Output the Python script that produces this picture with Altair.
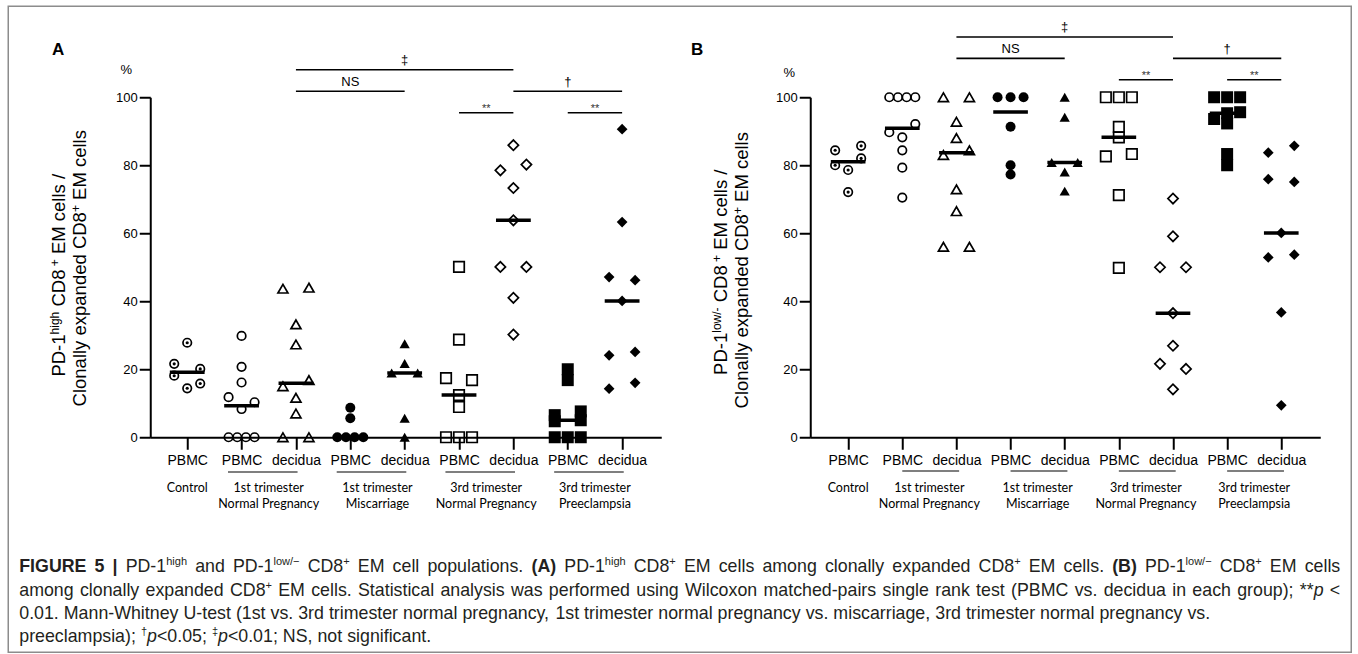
import re
import numpy as np
import pandas as pd
import altair as alt

# ---------------- values ----------------
slot_labels = ["PBMC", "PBMC", "decidua", "PBMC", "decidua", "PBMC", "decidua", "PBMC", "decidua"]
group_names = ["Control", "1st trimester\nNormal Pregnancy", "1st trimester\nMiscarriage",
               "3rd trimester\nNormal Pregnancy", "3rd trimester\nPreeclampsia"]
group_slots = [(0, 0), (1, 2), (3, 4), (5, 6), (7, 8)]
y_ticks = [0, 20, 40, 60, 80, 100]

a_control = [27.8, 21.6, 20.1, 18.1, 15.8, 14.4]
a_np1_pbmc = [29.8, 20.7, 16.1, 11.8, 10.3, 8.3, 0, 0, 0, 0]
a_np1_dec = [43.7, 44.0, 33.2, 27.3, 15.0, 16.8, 11.6, 7.0, 0, 0]
a_mis_pbmc = [8.7, 5.6, 0, 0, 0, 0]
a_mis_dec = [27.5, 21.7, 18.9, 18.9, 5.6, 0]
a_np3_pbmc = [50.1, 28.7, 17.4, 16.8, 12.4, 8.9, 0, 0, 0]
a_np3_dec = [85.9, 78.5, 80.2, 73.3, 63.8, 50.1, 50.1, 41.0, 30.2]
a_pe_pbmc = [20.0, 16.8, 6.5, 7.6, 4.7, 5.0, 0, 0, 0]
a_pe_dec = [90.6, 63.3, 47.1, 46.2, 40.1, 24.1, 25.1, 14.3, 16.0]

b_control = [84.4, 85.7, 80.0, 82.0, 78.6, 72.1]
b_np1_pbmc = [100, 100, 100, 100, 89.7, 92.1, 88.2, 84.4, 79.3, 70.5]
b_np1_dec = [100, 100, 92.8, 88.0, 83.0, 84.4, 72.9, 66.5, 56.0, 56.0]
b_mis_pbmc = [100, 100, 100, 91.3, 77.3, 80.0]
b_mis_dec = [100, 94.1, 80.8, 80.8, 78.0, 72.4]
b_np3_pbmc = [100, 100, 100, 91.3, 88.2, 82.6, 83.3, 71.2, 49.8]
b_np3_dec = [70.2, 59.1, 50.0, 50.0, 36.5, 26.9, 21.6, 20.1, 14.1]
b_pe_pbmc = [100, 100, 100, 93.6, 95.3, 95.6, 92.3, 83.3, 80.0]
b_pe_dec = [83.7, 85.7, 75.9, 75.1, 60.1, 52.9, 53.7, 36.7, 9.4]

# comparisons: (from slot, to slot, tier, label)
tests = [(2, 6, 2, "\u2021"), (2, 4, 1, "NS"), (6, 8, 1, "\u2020"), (5, 6, 0, "**"), (7, 8, 0, "**")]

a_title = [[("PD-1", "n"), ("high", "s"), (" CD8", "n"), (" +", "s"), (" EM cells /", "n")],
           [("Clonally expanded CD8", "n"), ("+", "s"), (" EM cells", "n")]]
b_title = [[("PD-1", "n"), ("low/-", "s"), (" CD8", "n"), (" +", "s"), (" EM cells /", "n")],
           [("Clonally expanded CD8", "n"), ("+", "s"), (" EM cells", "n")]]

caption = [
    [("FIGURE 5 |", "b"), (" PD-1", "n"), ("high", "s"), (" and PD-1", "n"), ("low/\u2212", "s"),
     (" CD8", "n"), ("+", "s"), (" EM cell populations. ", "n"), ("(A)", "b"), (" PD-1", "n"),
     ("high", "s"), (" CD8", "n"), ("+", "s"), (" EM cells among clonally expanded CD8", "n"),
     ("+", "s"), (" EM cells. ", "n"), ("(B)", "b"), (" PD-1", "n"), ("low/\u2212", "s"),
     (" CD8", "n"), ("+", "s"), (" EM cells", "n")],
    [("among clonally expanded CD8", "n"), ("+", "s"),
     (" EM cells. Statistical analysis was performed using Wilcoxon matched-pairs single rank test "
      "(PBMC vs. decidua in each group); **", "n"), ("p", "i"), (" <", "n")],
    [("0.01. Mann-Whitney U-test (1st vs. 3rd trimester normal pregnancy, 1st trimester normal "
      "pregnancy vs. miscarriage, 3rd trimester normal pregnancy vs.", "n")],
    [("preeclampsia); ", "n"), ("\u2020", "s"), ("p", "i"), ("<0.05; ", "n"), ("\u2021", "s"),
     ("p", "i"), ("<0.01; NS, not significant.", "n")],
]
caption_justify = [True, True, False, False]

a_values = [a_control, a_np1_pbmc, a_np1_dec, a_mis_pbmc, a_mis_dec, a_np3_pbmc, a_np3_dec, a_pe_pbmc, a_pe_dec]
b_values = [b_control, b_np1_pbmc, b_np1_dec, b_mis_pbmc, b_mis_dec, b_np3_pbmc, b_np3_dec, b_pe_pbmc, b_pe_dec]

# ---------------- styling / layout ----------------
slot_shape = ["circle", "circle", "triangle-up", "circle", "triangle-up", "square", "diamond", "square", "diamond"]
slot_fill = [False, False, False, True, True, False, False, True, True]
slot_ring = [True, False, False, False, False, False, False, False, False]
size_map = {("circle", False): 72, ("triangle-up", False): 100, ("square", False): 110, ("diamond", False): 105,
            ("circle", True): 100, ("triangle-up", True): 105, ("square", True): 144, ("diamond", True): 115}

NARROW = "Liberation Sans Narrow, Arial Narrow, Liberation Sans, sans-serif"
SANS = "Liberation Sans, Arial, sans-serif"
CAPFONT = "Liberation Sans, Arial, sans-serif"
GROUPFONT = "Lato, Open Sans, sans-serif"

TOP, H = 97, 340
P = {
    "A": dict(x0=150, w=511, d0=-0.68, d1=8.72, letter=(58, 50), pct=(126, 70),
              tbase=[65, 86], tcen=[275, 268], br_base=112.5, br_step=21.5,
              ul=(-0.25, 1.03), ul_y=471.7),
    "B": dict(x0=810, w=510, d0=-0.70, d1=8.72, letter=(697, 50), pct=(789, 73),
              tbase=[727, 748], tcen=[272, 270], br_base=79.5, br_step=21.4,
              ul=(0.0, 1.05), ul_y=470.7),
}


def ux(pid, px):
    p = P[pid]
    return p["d0"] + (px - p["x0"]) * (p["d1"] - p["d0"]) / p["w"]


def uy(py):
    return (TOP + H - py) * 100.0 / H


# Arial / Liberation Sans advance widths (1/1000 em)
AR = {' ': 278, '!': 278, '"': 355, '#': 556, '$': 556, '%': 889, '&': 667, "'": 191, '(': 333, ')': 333,
      '*': 389, '+': 584, ',': 278, '-': 333, '.': 278, '/': 278, ':': 278, ';': 278, '<': 584, '=': 584,
      '>': 584, '?': 556, '@': 1015, '[': 278, ']': 278, '|': 260, '\u2020': 556, '\u2021': 556, '\u2212': 584}
for c in "0123456789":
    AR[c] = 556
AR.update(dict(zip("ABCDEFGHIJKLMNOPQRSTUVWXYZ",
                   [667, 667, 722, 722, 667, 611, 778, 722, 278, 500, 667, 556, 833, 722, 778, 667, 778, 722,
                    667, 611, 722, 667, 944, 667, 667, 611])))
AR.update(dict(zip("abcdefghijklmnopqrstuvwxyz",
                   [556, 556, 500, 556, 556, 278, 556, 556, 222, 222, 500, 222, 833, 556, 556, 556, 556, 333,
                    500, 278, 556, 500, 722, 500, 500, 500])))
ARB = dict(AR)
ARB.update(dict(zip("ABCDEFGHIJKLMNOPQRSTUVWXYZ",
                    [722, 722, 722, 722, 667, 611, 778, 722, 278, 556, 722, 611, 833, 722, 778, 667, 778, 722,
                     667, 611, 722, 667, 944, 667, 667, 611])))
ARB['|'] = 280


def tw(s, fs, bold=False):
    tab = ARB if bold else AR
    return sum(tab.get(c, 556) for c in s) * fs / 1000.0


def runs(segs, fs, target=None, sup=0.65, rise=0.36):
    def fsz(st):
        return fs * sup if st == "s" else fs
    nat = sum(tw(t, fsz(st), st == "b") for t, st in segs)
    nsp = sum(t.count(" ") for t, st in segs)
    extra = (target - nat) / nsp if (target and nsp) else 0.0
    out, a = [], 0.0
    for t, st in segs:
        f = fsz(st)
        for tok in re.split("( )", t):
            if tok == "":
                continue
            if tok == " ":
                a += tw(" ", f, st == "b") + extra
            else:
                out.append(dict(a=a, r=(fs * rise if st == "s" else 0.0), text=tok, fs=f, st=st))
                a += tw(tok, f, st == "b")
    return out, a


def lanes(vals, bin_w, half):
    order = sorted(range(len(vals)), key=lambda i: (-vals[i], i))
    rows = []
    for i in order:
        if rows and vals[rows[-1][0]] - vals[i] <= bin_w:
            rows[-1].append(i)
        else:
            rows.append([i])
    off = [0.0] * len(vals)
    for r in rows:
        r = sorted(r)
        n = len(r)
        if n > 1:
            for j, i in enumerate(r):
                off[i] = -half + 2 * half * j / (n - 1)
    return off


def build_panel(pid, values, extras):
    p = P[pid]
    xs = alt.Scale(domain=[p["d0"], p["d1"]], nice=False, zero=False)
    ys = alt.Scale(domain=[0, 100], nice=False, zero=False)
    half = 13.0 * (p["d1"] - p["d0"]) / p["w"]

    label_expr = "[" + ",".join("'%s'" % l for l in slot_labels) + "][datum.value]"
    xaxis = alt.Axis(values=list(range(len(slot_labels))), labelExpr=label_expr, title="", grid=False,
                     domainColor="black", domainWidth=2, tickColor="black", tickWidth=2, tickSize=12,
                     labelFont=NARROW, labelFontSize=14, labelColor="black", labelPadding=4,
                     labelFlush=False, labelOverlap=False, labelBound=False)
    yaxis = alt.Axis(values=y_ticks, title="", grid=False, domainColor="black", domainWidth=2,
                     tickColor="black", tickWidth=2, tickSize=11, labelFont=NARROW, labelFontSize=13,
                     labelColor="black", labelPadding=2, labelFlush=False, labelOverlap=False)

    def X(f):
        return alt.X(f, type="quantitative", scale=xs, axis=xaxis)

    def Y(f):
        return alt.Y(f, type="quantitative", scale=ys, axis=yaxis)

    def text_layer(rows, **mk):
        df = pd.DataFrame(rows)
        df["tx"] = [ux(pid, v) for v in df["px"]]
        df["ty"] = [uy(v) for v in df["py"]]
        return alt.Chart(df).mark_text(**mk).encode(
            x=X("tx"), y=Y("ty"), text="text:N", size=alt.Size("fs:Q", scale=None))

    rows = []
    for s, vals in enumerate(values):
        for v, o in zip(vals, lanes(vals, 2.5, half)):
            rows.append(dict(slot=s, value=v, x=s + o, shape=slot_shape[s], isfilled=slot_fill[s],
                             isring=slot_ring[s], size=size_map[(slot_shape[s], slot_fill[s])]))
    pts = pd.DataFrame(rows)
    open_pts = pts[~pts["isfilled"]]
    full_pts = pts[pts["isfilled"]]
    ring_pts = pts[pts["isring"]]

    layers = []
    layers.append(alt.Chart(open_pts).mark_point(filled=False, color="black", strokeWidth=1.7, opacity=1).encode(
        x=X("x"), y=Y("value"), shape=alt.Shape("shape:N", scale=None), size=alt.Size("size:Q", scale=None)))
    layers.append(alt.Chart(full_pts).mark_point(filled=True, color="black", opacity=1).encode(
        x=X("x"), y=Y("value"), shape=alt.Shape("shape:N", scale=None), size=alt.Size("size:Q", scale=None)))
    layers.append(alt.Chart(ring_pts).mark_point(filled=True, color="black", opacity=1, shape="circle", size=10).encode(
        x=X("x"), y=Y("value")))

    med = pd.DataFrame([dict(xa=s - 0.32, xb=s + 0.32, m=float(np.median(v))) for s, v in enumerate(values)])
    layers.append(alt.Chart(med).mark_rule(color="black", strokeWidth=3.5).encode(
        x=X("xa"), x2="xb:Q", y=Y("m")))

    # significance brackets
    br = []
    for a, b, tier, lab in tests:
        ly = p["br_base"] - p["br_step"] * tier
        br.append(dict(xa=a, xb=b, xm=(a + b) / 2.0, yl=uy(ly),
                       yt=uy(ly - (1.0 if lab == "**" else 5.5)), lab=lab))
    brdf = pd.DataFrame(br)
    layers.append(alt.Chart(brdf).mark_rule(color="black", strokeWidth=1.6).encode(
        x=X("xa"), x2="xb:Q", y=Y("yl")))
    layers.append(alt.Chart(brdf[brdf["lab"] == "NS"]).mark_text(font=NARROW, fontSize=13, baseline="alphabetic", color="black").encode(
        x=X("xm"), y=Y("yt"), text="lab:N"))
    layers.append(alt.Chart(brdf[brdf["lab"].isin(["\u2020", "\u2021"])]).mark_text(font=SANS, fontSize=13, baseline="alphabetic", color="black").encode(
        x=X("xm"), y=Y("yt"), text="lab:N"))
    layers.append(alt.Chart(brdf[brdf["lab"] == "**"]).mark_text(font=SANS, fontSize=11, baseline="alphabetic", color="#333").encode(
        x=X("xm"), y=Y("yt"), text="lab:N"))

    # group underlines and names
    ul = pd.DataFrame([dict(xa=g0 + p["ul"][0], xb=g0 + p["ul"][1], y=uy(p["ul_y"]))
                       for (g0, g1) in group_slots if g1 > g0])
    layers.append(alt.Chart(ul).mark_rule(color="#555", strokeWidth=1.5).encode(
        x=X("xa"), x2="xb:Q", y=Y("y")))
    gn = pd.DataFrame([dict(x=(g0 + g1) / 2.0, y=uy(481.3), t=n) for n, (g0, g1) in zip(group_names, group_slots)])
    layers.append(alt.Chart(gn).mark_text(font=GROUPFONT, fontSize=12.5, lineBreak="\n", lineHeight=16.6,
                                          baseline="top", align="center", color="black").encode(
        x=X("x"), y=Y("y"), text="t:N"))

    # panel letter and unit
    lx, ly = p["letter"]
    layers.append(text_layer([dict(px=lx, py=ly, text=pid, fs=17)],
                             font=SANS, fontWeight="bold", baseline="middle", align="center", color="black"))
    cx, cy = p["pct"]
    layers.append(text_layer([dict(px=cx, py=cy, text="%", fs=13)],
                             font=NARROW, baseline="middle", align="center", color="black"))

    # rotated axis title (two lines with superscripts)
    trows = []
    title = a_title if pid == "A" else b_title
    for segs, bx, yc in zip(title, p["tbase"], p["tcen"]):
        rr, total = runs(segs, 18.5)
        y0 = yc + total / 2.0
        for r in rr:
            trows.append(dict(px=bx - r["r"], py=y0 - r["a"], text=r["text"], fs=r["fs"]))
    layers.append(text_layer(trows, font=SANS, angle=270, align="left", baseline="alphabetic", color="black"))

    layers.extend(extras(pid, X, Y, text_layer))
    return alt.layer(*layers).properties(width=p["w"], height=H)


def extras_a(pid, X, Y, text_layer):
    out = []
    # figure frame
    fr = pd.DataFrame([dict(xa=ux(pid, 8), xb=ux(pid, 1351), ya=uy(6), yb=uy(652))])
    out.append(alt.Chart(fr).mark_rect(filled=False, stroke="#8c8c8c", strokeWidth=1.5).encode(
        x=X("xa"), x2="xb:Q", y=Y("ya"), y2="yb:Q"))
    # caption
    CF = 17.8
    rows = []
    base = [572.0, 595.3, 618.6, 641.9]
    for segs, by, just in zip(caption, base, caption_justify):
        rr, _ = runs(segs, CF, target=(1321.0 if just else None), sup=0.62, rise=0.38)
        for r in rr:
            rows.append(dict(px=19 + r["a"], py=by - r["r"], text=r["text"], fs=r["fs"], st=r["st"]))
    cdf = pd.DataFrame(rows)
    for st, kw in [("n", {}), ("s", {}), ("b", dict(fontWeight="bold")), ("i", dict(fontStyle="italic"))]:
        sub = cdf[cdf["st"] == st]
        if len(sub):
            out.append(text_layer(sub.to_dict("records"), font=CAPFONT, align="left",
                                  baseline="alphabetic", color="#231f20", **kw))
    return out


def extras_b(pid, X, Y, text_layer):
    return []


panel_a = build_panel("A", a_values, extras_a)
panel_b = build_panel("B", b_values, extras_b)

chart = alt.hconcat(panel_a, panel_b, spacing=149, bounds="flush").properties(
    padding={"left": 7.25, "top": 5.25, "right": 0, "bottom": 0}, background="white"
).configure_view(strokeWidth=0)

chart.save("out.html", embed_options={"renderer": "svg", "actions": False})
